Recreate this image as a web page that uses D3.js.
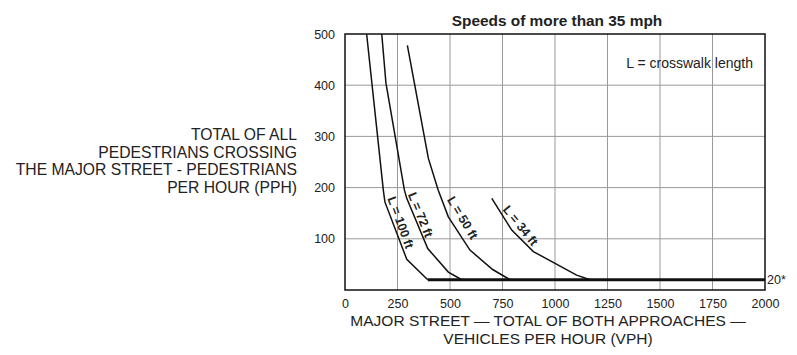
<!DOCTYPE html>
<html><head><meta charset="utf-8">
<script src="https://cdn.jsdelivr.net/npm/d3@7"></script>
<style>
body{margin:0;background:#fff;}
svg{display:block;font-family:"Liberation Sans",Arial,sans-serif;}
</style></head>
<body><svg id="c" width="797" height="355"></svg>
<script>
const title = "Speeds of more than 35 mph";
const legendText = "L = crosswalk length";
const xTicks = [0,250,500,750,1000,1250,1500,1750,2000];
const yTicks = [100,200,300,400,500];
const yTickLabels = ["100","200","300","400","500"];
const floorValue = 20;
const floorLabel = "20*";
const yLabelLines = ["TOTAL OF ALL","PEDESTRIANS CROSSING","THE MAJOR STREET - PEDESTRIANS","PER HOUR (PPH)"];
const xLabelLines = ["MAJOR STREET \u2014 TOTAL OF BOTH APPROACHES \u2014","VEHICLES PER HOUR (VPH)"];

const seriesNames = ["L = 100 ft","L = 72 ft","L = 50 ft","L = 34 ft"];
const curve100 = [[103,500],[183,193],[190,172],[294,60],[394,20]];
const curve72  = [[175,500],[195,404],[283,195],[294,179],[394,81],[492,35],[556,20]];
const curve50  = [[297,478],[397,257],[444,195],[492,143],[595,78],[703,40],[786,20]];
const curve34  = [[699,179],[794,117],[897,75],[1103,29],[1167,20]];
const curves = [curve100,curve72,curve50,curve34];
const labelAt = [[265,132],[360,147],[560,141],[836,126]];
const labelAngle = [70,68,59,51];
const floorRange = [394,2000];

const svg = d3.select("#c");
const x = d3.scaleLinear().domain([0,2000]).range([345,765]);
const y = d3.scaleLinear().domain([0,500]).range([290,34]);
const ink = "#222";

// grid
svg.append("g").selectAll("line").data(xTicks.slice(1,-1)).join("line")
  .attr("x1",d=>x(d)).attr("x2",d=>x(d)).attr("y1",y(0)).attr("y2",y(500))
  .attr("stroke","#9a9a9a").attr("stroke-width",1);
svg.append("g").selectAll("line").data(yTicks.slice(0,-1)).join("line")
  .attr("y1",d=>y(d)).attr("y2",d=>y(d)).attr("x1",x(0)).attr("x2",x(2000))
  .attr("stroke","#9a9a9a").attr("stroke-width",1);

// frame
svg.append("rect").attr("x",x(0)).attr("y",y(500)).attr("width",x(2000)-x(0)).attr("height",y(0)-y(500))
  .attr("fill","none").attr("stroke","#111").attr("stroke-width",1.5);

// axes tick labels
const xa = svg.append("g").attr("transform",`translate(0,${y(0)})`)
  .call(d3.axisBottom(x).tickValues(xTicks).tickSize(0).tickPadding(9).tickFormat(d=>String(d)));
xa.select(".domain").remove();
xa.selectAll("text").attr("font-size",12.5).attr("fill",ink).attr("font-family","Liberation Sans,Arial,sans-serif");
const ya = svg.append("g").attr("transform",`translate(${x(0)},0)`)
  .call(d3.axisLeft(y).tickValues(yTicks).tickSize(0).tickPadding(10).tickFormat((d,i)=>yTickLabels[i]));
ya.select(".domain").remove();
ya.selectAll("text").attr("font-size",12.5).attr("fill",ink).attr("font-family","Liberation Sans,Arial,sans-serif");

// floor line
svg.append("line").attr("x1",x(floorRange[0])).attr("x2",x(floorRange[1]))
  .attr("y1",y(floorValue)).attr("y2",y(floorValue)).attr("stroke","#111").attr("stroke-width",3);
svg.append("text").attr("x",x(2000)+2).attr("y",y(floorValue)+4.5).text(floorLabel)
  .attr("font-size",12.5).attr("fill",ink);

// curves
const line = d3.line().x(d=>x(d[0])).y(d=>y(d[1])).curve(d3.curveLinear);
svg.append("g").selectAll("path").data(curves).join("path")
  .attr("d",line).attr("fill","none").attr("stroke","#111").attr("stroke-width",1.5);

// curve labels
svg.append("g").selectAll("text").data(seriesNames).join("text")
  .attr("transform",(d,i)=>`translate(${x(labelAt[i][0])},${y(labelAt[i][1])}) rotate(${labelAngle[i]})`)
  .attr("text-anchor","middle").attr("dy","0.35em")
  .attr("font-size",12.5).attr("font-weight","bold").attr("fill",ink).text(d=>d);

// title & legend
svg.append("text").attr("x",557).attr("y",25.5).attr("text-anchor","middle")
  .attr("font-size",15.4).attr("font-weight","bold").attr("fill",ink).text(title);
svg.append("text").attr("x",753).attr("y",67.5).attr("text-anchor","end")
  .attr("font-size",14).attr("fill",ink).text(legendText);

// y label
svg.append("g").selectAll("text").data(yLabelLines).join("text")
  .attr("x",297).attr("y",(d,i)=>140+i*17.7).attr("text-anchor","end")
  .attr("font-size",15.7).attr("fill",ink).text(d=>d);
// x label
svg.append("g").selectAll("text").data(xLabelLines).join("text")
  .attr("x",548).attr("y",(d,i)=>326+i*18.3).attr("text-anchor","middle")
  .attr("font-size",15.5).attr("fill",ink).text(d=>d);
</script></body></html>
